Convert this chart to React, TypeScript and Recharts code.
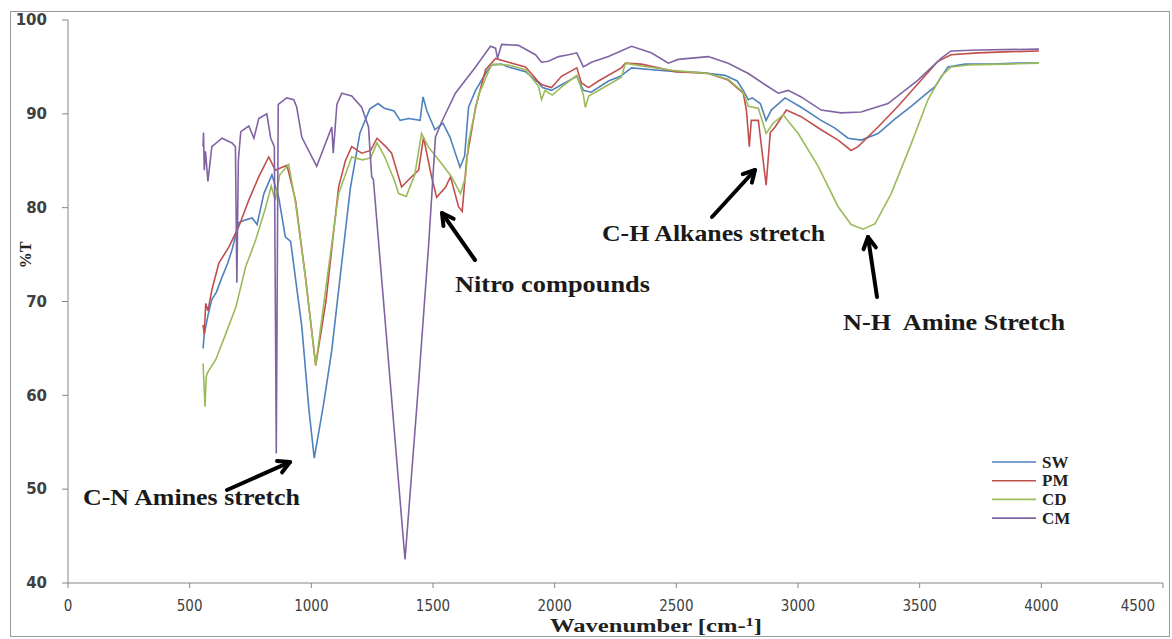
import React from 'react';
import { LineChart, Line, XAxis, YAxis } from 'recharts';

// FTIR spectra, %T vs wavenumber
const X_TICKS = [0, 500, 1000, 1500, 2000, 2500, 3000, 3500, 4000, 4500];
const Y_TICKS = [40, 50, 60, 70, 80, 90, 100];

const swWn = [555, 560, 566, 575, 591, 610, 633, 655, 674, 702, 730, 757, 777, 805, 838, 866, 893, 915, 961, 990, 1012, 1050, 1084, 1120, 1160, 1200, 1240, 1274, 1300, 1340, 1365, 1400, 1447, 1459, 1475, 1508, 1541, 1570, 1611, 1630, 1646, 1675, 1716, 1741, 1780, 1810, 1880, 1934, 1950, 1987, 2028, 2091, 2118, 2150, 2221, 2270, 2316, 2400, 2500, 2600, 2700, 2750, 2775, 2796, 2812, 2845, 2869, 2890, 2947, 3013, 3095, 3150, 3206, 3260, 3329, 3400, 3465, 3520, 3563, 3616, 3686, 3800, 3900, 3990];
const swT = [65.0, 66.5, 67.3, 68.5, 70.2, 71.0, 72.6, 74.0, 75.5, 78.4, 78.7, 78.9, 78.2, 81.5, 83.5, 81.1, 76.9, 76.4, 67.3, 58.5, 53.3, 59.0, 64.8, 73.0, 82.0, 88.0, 90.5, 91.1, 90.6, 90.3, 89.3, 89.5, 89.3, 91.8, 90.3, 88.3, 89.0, 87.5, 84.3, 85.5, 90.7, 92.5, 94.3, 95.2, 95.3, 95.0, 94.5, 93.3, 92.8, 92.5, 93.1, 94.0, 92.5, 92.3, 93.5, 94.0, 94.9, 94.7, 94.5, 94.4, 94.1, 93.5, 92.5, 91.5, 91.7, 91.1, 89.3, 90.4, 91.7, 90.7, 89.3, 88.5, 87.4, 87.2, 87.9, 89.5, 90.8, 92.0, 92.9, 95.0, 95.3, 95.3, 95.4, 95.4];

const pmWn = [555, 560, 566, 575, 591, 620, 661, 702, 743, 784, 825, 852, 880, 900, 935, 976, 1018, 1060, 1112, 1140, 1166, 1207, 1244, 1270, 1306, 1330, 1371, 1412, 1441, 1461, 1494, 1515, 1552, 1572, 1605, 1620, 1638, 1675, 1716, 1757, 1810, 1880, 1934, 1948, 1987, 2028, 2091, 2110, 2139, 2180, 2274, 2291, 2356, 2496, 2631, 2713, 2775, 2788, 2800, 2808, 2837, 2869, 2886, 2906, 2952, 3013, 3095, 3165, 3218, 3247, 3329, 3411, 3493, 3575, 3629, 3740, 3850, 3990];
const pmT = [67.5, 66.5, 69.8, 69.0, 71.2, 74.1, 75.8, 78.0, 80.8, 83.3, 85.4, 84.0, 84.3, 84.5, 80.8, 72.6, 63.2, 70.0, 82.2, 85.0, 86.5, 85.8, 86.1, 87.4, 86.5, 85.8, 82.2, 83.3, 84.0, 87.5, 83.3, 81.1, 82.2, 83.3, 80.1, 79.6, 85.1, 90.7, 94.7, 95.9, 95.5, 95.0, 93.4, 93.1, 92.8, 94.0, 94.9, 93.3, 92.8, 93.5, 94.9, 95.4, 95.3, 94.5, 94.3, 93.6, 92.2, 90.4, 86.5, 89.3, 89.3, 82.4, 88.0, 88.6, 90.4, 89.7, 88.3, 87.2, 86.1, 86.5, 88.6, 90.8, 93.2, 95.6, 96.3, 96.5, 96.6, 96.7];

const cdWn = [555, 560, 563, 568, 575, 607, 649, 690, 730, 772, 813, 835, 852, 870, 907, 935, 976, 1018, 1060, 1112, 1166, 1210, 1244, 1270, 1300, 1340, 1359, 1390, 1425, 1453, 1480, 1523, 1576, 1613, 1634, 1646, 1687, 1741, 1810, 1880, 1934, 1946, 1960, 1990, 2040, 2091, 2118, 2126, 2140, 2221, 2274, 2291, 2356, 2496, 2631, 2713, 2775, 2796, 2837, 2869, 2898, 2939, 3001, 3083, 3165, 3218, 3268, 3317, 3383, 3465, 3534, 3588, 3629, 3700, 3850, 3990];
const cdT = [63.4, 60.5, 58.8, 62.0, 62.5, 63.8, 66.6, 69.4, 73.7, 76.6, 80.1, 82.3, 80.8, 83.5, 84.6, 80.5, 72.5, 63.2, 71.5, 81.5, 85.4, 85.1, 85.3, 86.9, 85.5, 83.0, 81.5, 81.2, 83.5, 87.9, 86.5, 85.1, 83.3, 81.5, 83.3, 87.0, 92.0, 95.3, 95.2, 94.7, 92.9, 91.5, 92.5, 92.0, 93.1, 94.1, 92.0, 90.7, 91.9, 93.1, 93.9, 95.4, 95.1, 94.6, 94.3, 93.7, 92.3, 90.8, 90.6, 87.9, 89.0, 89.9, 87.9, 84.4, 80.1, 78.2, 77.7, 78.3, 81.5, 86.8, 91.5, 94.0, 95.0, 95.2, 95.3, 95.4];

const cmWn = [555, 557, 560, 565, 575, 591, 633, 674, 688, 694, 700, 710, 743, 764, 784, 817, 833, 848, 856, 864, 899, 928, 940, 961, 1022, 1084, 1090, 1105, 1125, 1166, 1207, 1235, 1248, 1255, 1385, 1440, 1482, 1510, 1535, 1592, 1675, 1736, 1757, 1765, 1782, 1851, 1921, 1946, 1974, 2016, 2057, 2091, 2118, 2151, 2221, 2316, 2397, 2467, 2508, 2631, 2713, 2796, 2865, 2919, 2960, 3013, 3095, 3177, 3259, 3370, 3493, 3588, 3629, 3740, 3990];
const cmT = [86.5, 88.0, 84.0, 86.0, 82.8, 86.5, 87.4, 86.9, 86.5, 72.0, 85.0, 88.1, 88.7, 87.4, 89.5, 90.0, 87.4, 86.5, 53.8, 91.0, 91.7, 91.5, 90.7, 87.5, 84.4, 88.6, 85.8, 91.0, 92.2, 91.9, 90.7, 88.6, 83.3, 83.0, 42.5, 61.0, 76.0, 87.5, 89.1, 92.2, 95.0, 97.2, 97.0, 95.9, 97.4, 97.3, 96.3, 95.5, 95.6, 96.1, 96.3, 96.5, 95.0, 95.5, 96.1, 97.2, 96.5, 95.4, 95.8, 96.1, 95.4, 94.3, 93.1, 92.2, 92.5, 91.8, 90.4, 90.1, 90.2, 91.1, 93.6, 95.9, 96.7, 96.8, 96.9];

const toPoints = (wn: number[], t: number[]) => wn.map((x, i) => ({ x, y: t[i] }));

const SERIES = [
  { name: 'SW', color: '#4F81BD', data: toPoints(swWn, swT) },
  { name: 'PM', color: '#C0504D', data: toPoints(pmWn, pmT) },
  { name: 'CD', color: '#9BBB59', data: toPoints(cdWn, cdT) },
  { name: 'CM', color: '#8064A2', data: toPoints(cmWn, cmT) },
];

const SERIF = '"Liberation Serif", "DejaVu Serif", serif';

// last x label is pulled inside the plot, like Excel does
function XTick(props: any) {
  const { x, y, payload } = props;
  const last = payload.value === X_TICKS[X_TICKS.length - 1];
  return (
    <text
      x={last ? x - 1 : x}
      y={y}
      dy="0.71em"
      textAnchor={last ? 'end' : 'middle'}
      style={{ fill: '#404040', fontSize: 15, fontFamily: '"DejaVu Sans Condensed", "DejaVu Sans", sans-serif' }}
    >
      {payload.value}
    </text>
  );
}

function Arrow({ x1, y1, x2, y2 }: { x1: number; y1: number; x2: number; y2: number }) {
  const a = Math.atan2(y2 - y1, x2 - x1);
  const h = 13;
  const p1 = [x2 - h * Math.cos(a - 0.5), y2 - h * Math.sin(a - 0.5)];
  const p2 = [x2 - h * Math.cos(a + 0.5), y2 - h * Math.sin(a + 0.5)];
  return (
    <g stroke="#000" strokeWidth={4} strokeLinecap="round" strokeLinejoin="round" fill="none">
      <line x1={x1} y1={y1} x2={x2} y2={y2} />
      <polyline points={`${p1[0]},${p1[1]} ${x2},${y2} ${p2[0]},${p2[1]}`} />
    </g>
  );
}

function Overlay() {
  const note = { fontFamily: SERIF, fontSize: 23, fontWeight: 'bold' as const, fill: '#1a1a1a' };
  return (
    <svg width={1172} height={639} style={{ position: 'absolute', left: 0, top: 0, pointerEvents: 'none' }}>
      <rect x={10.5} y={11.5} width={1159} height={625} fill="none" stroke="#9a9a9a" />
      <text x={25} y={255} transform="rotate(-90 25 255)" textAnchor="middle" dominantBaseline="central"
        style={{ fontFamily: SERIF, fontSize: 16, fontWeight: 'bold', fill: '#222' }}>%T</text>
      <text x={550} y={632} textLength={212} lengthAdjust="spacingAndGlyphs"
        style={{ fontFamily: SERIF, fontSize: 18, fontWeight: 'bold', fill: '#222' }}>
        Wavenumber [cm-<tspan dy={-6} fontSize={12}>1</tspan><tspan dy={6}>]</tspan>
      </text>

      <Arrow x1={227} y1={490} x2={290} y2={462} />
      <Arrow x1={475} y1={260} x2={442} y2={213} />
      <Arrow x1={712} y1={217} x2={755} y2={170} />
      <Arrow x1={877} y1={297} x2={868} y2={237} />

      <text x={83} y={505} textLength={217} lengthAdjust="spacingAndGlyphs" style={note}>C-N Amines stretch</text>
      <text x={455} y={292} textLength={195} lengthAdjust="spacingAndGlyphs" style={note}>Nitro compounds</text>
      <text x={602} y={241} textLength={223} lengthAdjust="spacingAndGlyphs" style={note}>C-H Alkanes stretch</text>
      <text x={843} y={330} textLength={222} lengthAdjust="spacingAndGlyphs" style={note} xmlSpace="preserve">N-H  Amine Stretch</text>

      {SERIES.map((s, i) => (
        <g key={s.name}>
          <line x1={992} x2={1036} y1={462 + i * 18.7} y2={462 + i * 18.7} stroke={s.color} strokeWidth={1.6} />
          <text x={1042} y={462 + i * 18.7} dominantBaseline="central"
            style={{ fontFamily: SERIF, fontSize: 17, fontWeight: 'bold', fill: '#222' }}>{s.name}</text>
        </g>
      ))}
    </svg>
  );
}

export default function App() {
  return (
    <div style={{ position: 'absolute', left: 0, top: 0, width: 1172, height: 639, background: '#fff' }}>
      <LineChart width={1172} height={639} margin={{ top: 20, right: 9, bottom: 26, left: 8 }}>
        <XAxis
          dataKey="x"
          type="number"
          domain={[0, 4500]}
          ticks={X_TICKS}
          height={30}
          tickSize={5}
          tickMargin={12}
          stroke="#868686"
          tick={<XTick />}
          allowDataOverflow
        />
        <YAxis
          type="number"
          domain={[40, 100]}
          ticks={Y_TICKS}
          width={60}
          tickSize={6}
          tickMargin={15}
          stroke="#868686"
          tick={{ fill: '#404040', fontSize: 15, fontWeight: 'bold', fontFamily: '"DejaVu Sans", sans-serif' }}
          allowDataOverflow
        />
        {SERIES.map((s) => (
          <Line
            key={s.name}
            data={s.data}
            dataKey="y"
            name={s.name}
            type="linear"
            stroke={s.color}
            strokeWidth={1.6}
            dot={false}
            activeDot={false}
            isAnimationActive={false}
          />
        ))}
      </LineChart>
      <Overlay />
    </div>
  );
}
